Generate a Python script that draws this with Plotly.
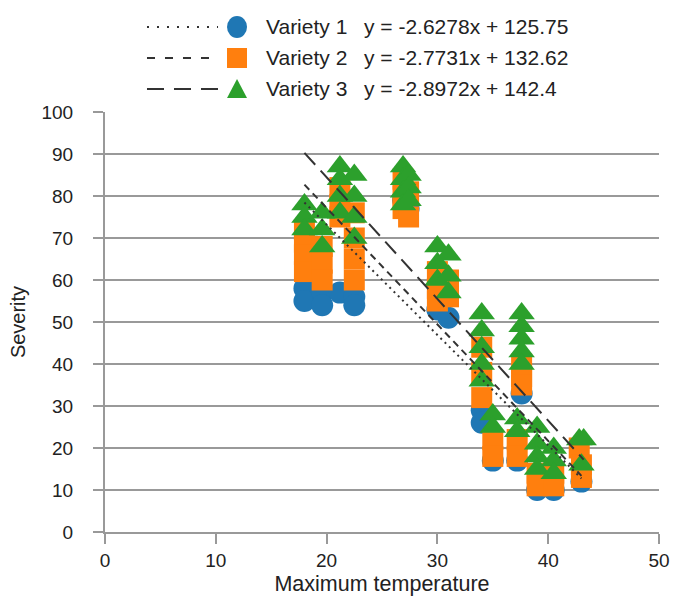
import plotly.graph_objects as go

# ---------------- data ----------------
v1_x = [18, 18, 19.6, 19.6, 21.2, 22.5, 22.5, 26.9, 27.4, 30, 31, 34, 34, 35,
        37.2, 37.6, 39, 40.5, 43]
v1_y = [58, 55, 57, 54, 57, 56, 54, 79, 77, 53, 51, 29, 26, 17,
        17, 33, 10, 10, 12]

v2_x = [18, 18, 18, 18, 19.6, 19.6, 19.6, 21.2, 21.2, 21.2, 22.5, 22.5, 22.5, 22.5,
        26.9, 26.9, 26.9, 27.4, 27.4, 30, 30, 30, 31, 31, 34, 34, 34, 35, 35,
        37.2, 37.2, 37.6, 37.6, 37.6, 39, 39, 40.5, 40.5, 42.8, 43, 43]
v2_y = [72, 69, 66, 62, 68, 64, 60, 82, 78, 75, 76, 70, 65, 60,
        84, 80, 77, 81, 75, 62, 58, 55, 60, 56, 44, 38, 32, 22, 18,
        22, 18, 40, 37, 35, 14, 11, 14, 11, 20, 16, 13]

v3_x = [18, 18, 18, 19.6, 19.6, 19.6, 21.2, 21.2, 21.2, 21.2, 22.5, 22.5, 22.5, 22.5,
        26.9, 26.9, 26.9, 26.9, 27.4, 27.4, 27.4, 30, 30, 30, 31, 31, 31,
        34, 34, 34, 34, 34, 35, 35, 37.2, 37.2, 37.6, 37.6, 37.6, 37.6, 37.6,
        39, 39, 39, 39, 40.5, 40.5, 40.5, 42.8, 43.2, 43]
v3_y = [78, 75, 72, 76, 72, 68, 87, 84, 80, 76, 85, 80, 75, 70,
        87, 84, 81, 78, 85, 82, 79, 68, 64, 60, 66, 61, 57,
        52, 48, 44, 40, 36, 28, 25, 27, 24, 52, 49, 46, 43, 40,
        25, 21, 18, 15, 20, 17, 14, 22, 22, 16]

names = ["Variety 1", "Variety 2", "Variety 3"]
slopes = [-2.6278, -2.7731, -2.8972]
intercepts = [125.75, 132.62, 142.4]

xs = [v1_x, v2_x, v3_x]
ys = [v1_y, v2_y, v3_y]

# ---------------- styles ----------------
colors = ["#1f77b4", "#ff7f0e", "#2ca02c"]
symbols = ["circle", "square", "triangle-up"]
sizes = [22, 21, 23]
plot_dash = ["2px,4px", "7px,5px", "16px,8px"]
legend_dash = ["2px,8px", "8px,10px", "17px,10px"]
FONT = "Liberation Sans, Arial, sans-serif"
TXT = "#222222"
GRID = "#999999"

fig = go.Figure()

for i in range(3):
    fig.add_trace(go.Scatter(
        x=xs[i], y=ys[i], mode="markers", name=names[i], showlegend=False,
        marker=dict(symbol=symbols[i], size=sizes[i], color=colors[i],
                    line=dict(width=0)),
    ))

for i in range(3):
    x0, x1 = min(xs[i]), max(xs[i])
    fig.add_trace(go.Scatter(
        x=[x0, x1], y=[slopes[i] * x0 + intercepts[i], slopes[i] * x1 + intercepts[i]],
        mode="lines", showlegend=False, hoverinfo="skip",
        line=dict(color="#333333", width=2, dash=plot_dash[i]),
    ))

# ---------------- custom legend ----------------
row_y = [1.2024, 1.1286, 1.0548]
line_x0 = 0.0758
line_x1 = [0.204, 0.193, 0.220]
mark_x = 0.2383
shapes = []
annotations = []
for i in range(3):
    shapes.append(dict(type="line", xref="paper", yref="paper",
                       x0=line_x0, x1=line_x1[i], y0=row_y[i], y1=row_y[i],
                       line=dict(color="#333333", width=2, dash=legend_dash[i])))
    base = dict(xref="paper", yref="paper", xsizemode="pixel", ysizemode="pixel",
                xanchor=mark_x, yanchor=row_y[i],
                fillcolor=colors[i], line=dict(width=0))
    if i == 0:
        shapes.append(dict(type="circle", x0=-10, x1=10, y0=-11, y1=11, **base))
    elif i == 1:
        shapes.append(dict(type="rect", x0=-10, x1=10, y0=-10, y1=10, **base))
    else:
        shapes.append(dict(type="path", path="M -10,-9 L 10,-9 L 0,10 Z", **base))
    annotations.append(dict(xref="paper", yref="paper", x=0.2870, y=row_y[i],
                            xanchor="left", yanchor="middle", showarrow=False,
                            text=names[i], font=dict(family=FONT, size=21, color=TXT)))
    annotations.append(dict(xref="paper", yref="paper", x=0.4639, y=row_y[i],
                            xanchor="left", yanchor="middle", showarrow=False,
                            text=f"y = {slopes[i]}x + {intercepts[i]}",
                            font=dict(family=FONT, size=21, color=TXT)))

fig.update_layout(
    width=675, height=597,
    margin=dict(l=105, r=16, t=112, b=65),
    paper_bgcolor="white", plot_bgcolor="white",
    font=dict(family=FONT, size=19, color=TXT),
    shapes=shapes, annotations=annotations,
    showlegend=False,
)
fig.update_xaxes(
    range=[0, 50], dtick=10, tick0=0, showgrid=False, zeroline=False,
    showline=True, linecolor=GRID, linewidth=2,
    ticks="outside", ticklen=10, tickwidth=2, tickcolor=GRID,
    tickfont=dict(size=19, color=TXT),
    title=dict(text="Maximum temperature", font=dict(size=21.5, color=TXT), standoff=6),
    automargin=False,
)
fig.update_yaxes(
    range=[0, 100], dtick=10, tick0=0, showgrid=True, gridcolor=GRID, gridwidth=2,
    zeroline=False, showline=True, linecolor=GRID, linewidth=2,
    ticks="outside", ticklen=10, tickwidth=2, tickcolor=GRID,
    ticklabelstandoff=16,
    tickfont=dict(size=19, color=TXT),
    title=dict(text="Severity", font=dict(size=20, color=TXT), standoff=10),
    automargin=False,
)

fig.write_html(
    "out.html",
    config={"displayModeBar": False},
    post_script="document.body.style.margin='0';document.body.style.overflow='hidden';",
)
